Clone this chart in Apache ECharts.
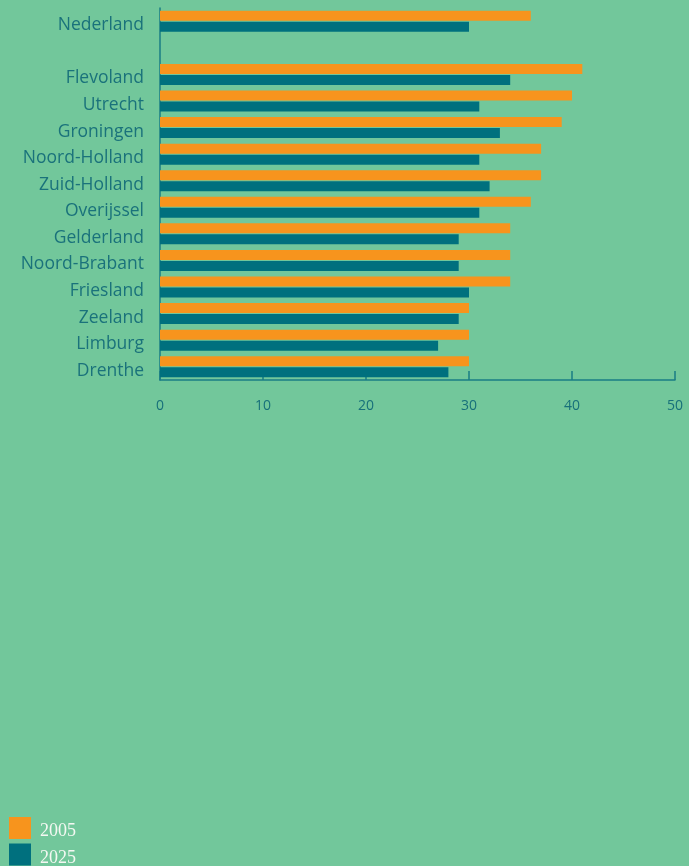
<!DOCTYPE html>
<html><head><meta charset="utf-8">
<script src="https://cdn.jsdelivr.net/npm/echarts@6/dist/echarts.min.js"></script>
<style>html,body{margin:0;padding:0;background:#72c79b;}#c{width:689px;height:866px;}</style>
</head><body><div id="c"></div>
<script>
const categories = ['Nederland', '', 'Flevoland', 'Utrecht', 'Groningen', 'Noord-Holland', 'Zuid-Holland', 'Overijssel', 'Gelderland', 'Noord-Brabant', 'Friesland', 'Zeeland', 'Limburg', 'Drenthe'];
const values2005 = [36, null, 41, 40, 39, 37, 37, 36, 34, 34, 34, 30, 30, 30];
const values2025 = [30, null, 34, 31, 33, 31, 32, 31, 29, 29, 30, 29, 27, 28];
const xTicks = [0, 10, 20, 30, 40, 50];

const chart = echarts.init(document.getElementById('c'));
chart.setOption({
  backgroundColor: '#72c79b',
  animation: false,
  grid: { left: 160, right: 14, top: 8, bottom: 486, containLabel: false },
  legend: {
    orient: 'vertical', left: 9, top: 817, height: 60, padding: 0, itemWidth: 22, itemHeight: 22, itemGap: 3,
    icon: 'rect',
    formatter: '{a|{name}}',
    textStyle: {
      color: '#f4f8f2', fontSize: 18, fontFamily: 'Liberation Serif',
      rich: { a: { color: '#f4f8f2', fontSize: 18, fontFamily: 'Liberation Serif', padding: [7, 0, 0, 4] } }
    },
    data: ['2005', '2025']
  },
  xAxis: {
    type: 'value', min: xTicks[0], max: xTicks[xTicks.length - 1], interval: 10,
    axisLine: { show: true, lineStyle: { color: '#1a7d85', width: 1.5 } },
    axisTick: { show: true, inside: true, length: 9, lineStyle: { color: '#1a7d85', width: 1.5 } },
    axisLabel: { color: '#17707a', fontSize: 14, margin: 19, fontFamily: 'Open Sans' },
    splitLine: { show: false }
  },
  yAxis: {
    type: 'category', data: categories, inverse: true,
    axisLine: { show: true, lineStyle: { color: '#1a7d85', width: 1.5 } },
    axisTick: { show: false },
    axisLabel: { color: '#1a727b', fontSize: 17.5, margin: 16, fontFamily: 'Open Sans', verticalAlign: 'top', lineHeight: 8 }
  },
  series: [
    { name: '2005', type: 'bar', data: values2005, barWidth: 10, barGap: '10%', itemStyle: { color: '#f7941d' } },
    { name: '2025', type: 'bar', data: values2025, barWidth: 10, barGap: '10%', itemStyle: { color: '#00707e' } }
  ]
});
</script></body></html>
